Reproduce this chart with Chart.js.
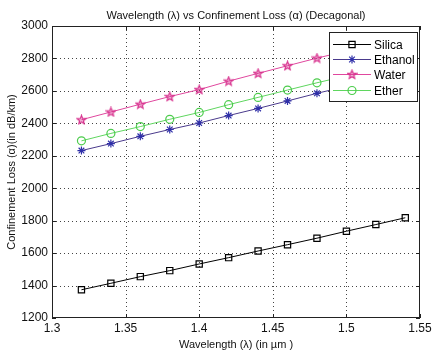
<!DOCTYPE html>
<html>
<head>
<meta charset="utf-8">
<script src="https://cdn.jsdelivr.net/npm/chart.js@4/dist/chart.umd.min.js"></script>
<style>
  html, body { margin: 0; padding: 0; background: #fff; }
  #wrap { width: 439px; height: 353px; }
</style>
</head>
<body>
<div id="wrap"><canvas id="lossChart" width="439" height="353"></canvas></div>
<script>
const wavelengths = [1.32, 1.34, 1.36, 1.38, 1.40, 1.42, 1.44, 1.46, 1.48, 1.50, 1.52, 1.54];
const silica  = [1374, 1414, 1455, 1492, 1533, 1572, 1613, 1652, 1692, 1735, 1776, 1818];
const ethanol = [2232, 2275, 2320, 2362, 2402, 2448, 2492, 2538, 2585, 2628, 2670, 2712];
const water   = [2422, 2470, 2518, 2565, 2608, 2660, 2708, 2755, 2802, 2845, 2885, 2925];
const ether   = [2292, 2338, 2380, 2425, 2467, 2515, 2560, 2605, 2650, 2692, 2735, 2775];
const xTicks = [1.3, 1.35, 1.4, 1.45, 1.5, 1.55];
const yTicks = [1200, 1400, 1600, 1800, 2000, 2200, 2400, 2600, 2800, 3000];

const FONT = "'Liberation Sans', Arial, sans-serif";
const TITLE = 'Wavelength (\u03bb) vs Confinement Loss (\u03b1) (Decagonal)';

// MATLAB-like pentagram marker
function pentagram(color) {
    const c = document.createElement('canvas');
    c.width = 11; c.height = 11;
    const g = c.getContext('2d');
    g.strokeStyle = color;
    g.fillStyle = 'rgba(216,51,143,0.35)';
    g.lineWidth = 1.2;
    g.beginPath();
    for (let i = 0; i < 10; i++) {
        const r = i % 2 === 0 ? 4.6 : 2.0;
        const a = -Math.PI / 2 + i * Math.PI / 5;
        const px = 5.5 + r * Math.cos(a), py = 5.8 + r * Math.sin(a);
        if (i === 0) g.moveTo(px, py); else g.lineTo(px, py);
    }
    g.closePath();
    g.fill();
    g.stroke();
    return c;
}
const starImg = pentagram('#d8338f');

const toPts = vals => vals.map((v, i) => ({ x: wavelengths[i], y: v }));

const series = [
    { label: 'Silica',  data: toPts(silica),  line: '#000000', mark: '#000000', style: 'rect',   r: 4.4 },
    { label: 'Ethanol', data: toPts(ethanol), line: '#4a3a8c', mark: '#2f2fa8', style: 'star',   r: 4 },
    { label: 'Water',   data: toPts(water),   line: '#e0479e', mark: '#d8338f', style: starImg,  r: 5 },
    { label: 'Ether',   data: toPts(ether),   line: '#5fd65f', mark: '#4ccc4c', style: 'circle', r: 4 }
];

// dotted grid under the data
const dottedGrid = {
    id: 'dottedGrid',
    beforeDatasetsDraw(chart) {
        const { ctx, chartArea: a, scales: { x, y } } = chart;
        ctx.save();
        ctx.strokeStyle = '#444';
        ctx.lineWidth = 1;
        ctx.setLineDash([1, 3]);
        ctx.beginPath();
        xTicks.slice(1, -1).forEach(t => {
            const px = Math.round(x.getPixelForValue(t)) + 0.5;
            ctx.moveTo(px, a.top); ctx.lineTo(px, a.bottom);
        });
        yTicks.slice(1, -1).forEach(t => {
            const py = Math.round(y.getPixelForValue(t)) + 0.5;
            ctx.moveTo(a.left, py); ctx.lineTo(a.right, py);
        });
        ctx.stroke();
        ctx.restore();
    }
};

// axes box, ticks, title and legend drawn on top like MATLAB
const matlabFrame = {
    id: 'matlabFrame',
    afterDatasetsDraw(chart) {
        const { ctx, chartArea: a, scales: { x, y } } = chart;
        ctx.save();
        ctx.strokeStyle = '#222';
        ctx.lineWidth = 1;
        ctx.strokeRect(a.left + 0.5, a.top + 0.5, a.right - a.left - 1, a.bottom - a.top - 1);
        ctx.beginPath();
        xTicks.forEach(t => {
            const px = Math.round(x.getPixelForValue(t)) + 0.5;
            ctx.moveTo(px, a.bottom); ctx.lineTo(px, a.bottom - 4);
            ctx.moveTo(px, a.top); ctx.lineTo(px, a.top + 4);
        });
        yTicks.forEach(t => {
            const py = Math.round(y.getPixelForValue(t)) + 0.5;
            ctx.moveTo(a.left, py); ctx.lineTo(a.left + 4, py);
            ctx.moveTo(a.right, py); ctx.lineTo(a.right - 4, py);
        });
        ctx.stroke();

        // title centred over the axes
        ctx.fillStyle = '#111';
        ctx.font = '11px ' + FONT;
        ctx.textAlign = 'center';
        ctx.textBaseline = 'middle';
        ctx.fillText(TITLE, (a.left + a.right) / 2, 16);

        // legend
        const lx = 329, ly = 32, lw = 88, lh = 69;
        ctx.fillStyle = '#fff';
        ctx.fillRect(lx, ly, lw, lh);
        ctx.strokeStyle = '#222';
        ctx.strokeRect(lx + 0.5, ly + 0.5, lw, lh);
        ctx.font = '12px ' + FONT;
        ctx.textAlign = 'left';
        const rows = [44, 59, 74, 90];
        chart.data.datasets.forEach((ds, i) => {
            const ry = rows[i] + 0.5;
            ctx.strokeStyle = ds.borderColor;
            ctx.lineWidth = 1;
            ctx.beginPath();
            ctx.moveTo(333, ry); ctx.lineTo(371, ry);
            ctx.stroke();
            ctx.strokeStyle = ds.pointBorderColor;
            ctx.fillStyle = 'rgba(255,255,255,0)';
            ctx.lineWidth = ds.pointBorderWidth;
            if (typeof ds.pointStyle === 'string') {
                Chart.helpers.drawPoint(ctx, {
                    pointStyle: ds.pointStyle, radius: ds.pointRadius, rotation: 0, borderWidth: ds.pointBorderWidth
                }, 352, ry);
            } else {
                ctx.drawImage(ds.pointStyle, 352 - 5.5, ry - 5.5);
            }
            ctx.fillStyle = '#000';
            ctx.fillText(ds.label, 374, ry + 1);
        });
        ctx.restore();
    }
};

new Chart(document.getElementById('lossChart'), {
    type: 'line',
    data: {
        datasets: series.map(s => ({
            label: s.label,
            data: s.data,
            borderColor: s.line,
            borderWidth: 1,
            pointStyle: s.style,
            pointRadius: s.r,
            pointBorderColor: s.mark,
            pointBackgroundColor: 'rgba(255,255,255,0)',
            pointBorderWidth: 1.2,
            tension: 0
        }))
    },
    options: {
        responsive: false,
        animation: false,
        events: [],
        layout: { padding: { top: 26, right: 19, left: 0, bottom: 0 } },
        plugins: {
            legend: { display: false },
            tooltip: { enabled: false },
            title: { display: false }
        },
        scales: {
            x: {
                type: 'linear',
                min: 1.3,
                max: 1.55,
                afterBuildTicks: s => { s.ticks = xTicks.map(v => ({ value: v })); },
                afterFit: s => { s.height = 35; },
                ticks: {
                    color: '#111',
                    padding: 3,
                    font: { family: FONT, size: 12 },
                    callback: v => String(v)
                },
                grid: { display: false, drawTicks: false },
                border: { display: false },
                title: {
                    display: true,
                    text: 'Wavelength (\u03bb) (in \u00b5m )',
                    color: '#111',
                    font: { family: FONT, size: 11 },
                    padding: { top: 0, bottom: 1 }
                }
            },
            y: {
                min: 1200,
                max: 3000,
                afterBuildTicks: s => { s.ticks = yTicks.map(v => ({ value: v })); },
                afterFit: s => { s.width = 52; },
                ticks: {
                    color: '#111',
                    padding: 4,
                    font: { family: FONT, size: 12 },
                    callback: v => String(v)
                },
                grid: { display: false, drawTicks: false },
                border: { display: false },
                title: {
                    display: true,
                    text: 'Confinement Loss (\u03b1)(in dB/km)',
                    color: '#111',
                    font: { family: FONT, size: 11 },
                    padding: { top: 5, bottom: 0 }
                }
            }
        }
    },
    plugins: [dottedGrid, matlabFrame]
});
</script>
</body>
</html>
